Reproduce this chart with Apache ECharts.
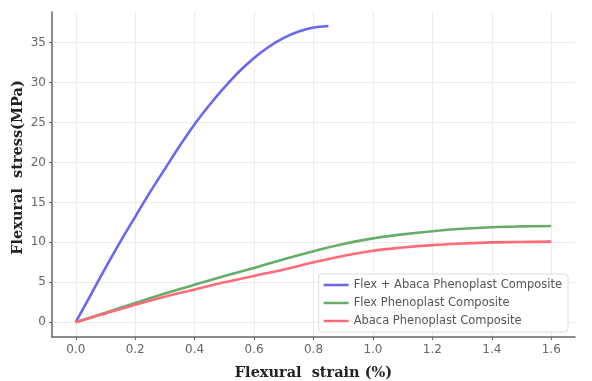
<!DOCTYPE html>
<html>
<head>
<meta charset="utf-8">
<script src="https://cdn.jsdelivr.net/npm/echarts@6/dist/echarts.min.js"></script>
<style>
  html, body { margin: 0; padding: 0; background: #fff; }
  #chart { width: 592px; height: 381px; }
</style>
</head>
<body>
<div id="chart"></div>
<script>
// strain (%) and stress (MPa)
const flaxAbacaStrain = [0, 0.05, 0.1, 0.15, 0.2, 0.25, 0.3, 0.35, 0.4, 0.45, 0.5, 0.55, 0.6, 0.65, 0.7, 0.75, 0.8, 0.85];
const flaxAbacaStress = [0, 3.4, 6.8, 10.1, 13.2, 16.3, 19.2, 22.1, 24.8, 27.2, 29.4, 31.4, 33.1, 34.5, 35.6, 36.4, 36.9, 37.1];

const strain = [0, 0.1, 0.2, 0.3, 0.4, 0.5, 0.6, 0.7, 0.8, 0.9, 1.0, 1.1, 1.2, 1.3, 1.4, 1.5, 1.6];
const flaxStress = [0, 1.2, 2.4, 3.6, 4.7, 5.8, 6.8, 7.9, 8.9, 9.8, 10.5, 11.0, 11.4, 11.7, 11.9, 12.0, 12.05];
const abacaStress = [0, 1.1, 2.2, 3.2, 4.1, 5.0, 5.8, 6.6, 7.5, 8.3, 8.95, 9.35, 9.65, 9.85, 10.0, 10.05, 10.1];

const seriesNames = ['Flex + Abaca Phenoplast Composite', 'Flex Phenoplast Composite', 'Abaca Phenoplast Composite'];
const xTicks = [0, 0.2, 0.4, 0.6, 0.8, 1.0, 1.2, 1.4, 1.6];
const yTicks = [0, 5, 10, 15, 20, 25, 30, 35];

const zip = (xs, ys) => xs.map((x, i) => [x, ys[i]]);

const chart = echarts.init(document.getElementById('chart'));

const lineSeries = (name, data, color) => ({
  name,
  type: 'line',
  data,
  smooth: 0.4,
  showSymbol: false,
  lineStyle: { color, width: 2.6 },
  itemStyle: { color },
});

chart.setOption({
  animation: false,
  grid: { left: 52, right: 17, top: 12, bottom: 44, outerBoundsMode: 'none' },
  xAxis: {
    type: 'value',
    min: -0.08,
    max: 1.68,
    name: 'Flexural  strain (%)',
    nameLocation: 'middle',
    nameGap: 29,
    nameTextStyle: { fontFamily: 'DejaVu Serif', fontWeight: 'bold', fontSize: 14.5, color: '#222' },
    axisLine: { onZero: false, lineStyle: { color: '#666', width: 1.5 } },
    axisTick: { show: true, length: 3, customValues: xTicks, lineStyle: { color: '#666' } },
    axisLabel: {
      customValues: xTicks,
      color: '#666',
      fontFamily: 'DejaVu Sans',
      fontSize: 12,
      margin: 7,
      formatter: (v) => v.toFixed(1),
    },
    splitLine: { show: true, lineStyle: { color: '#ebebeb', width: 1 } },
  },
  yAxis: {
    type: 'value',
    min: -1.85,
    max: 38.85,
    name: 'Flexural  stress(MPa)',
    nameLocation: 'middle',
    nameGap: 26,
    nameMoveOverlap: false,
    nameTextStyle: { fontFamily: 'DejaVu Serif', fontWeight: 'bold', fontSize: 14.5, color: '#222', padding: [0, 0, 0, 14] },
    axisLine: { show: true, onZero: false, lineStyle: { color: '#666', width: 1.5 } },
    axisTick: { show: true, length: 3, customValues: yTicks, lineStyle: { color: '#666' } },
    axisLabel: {
      customValues: yTicks,
      color: '#666',
      fontFamily: 'DejaVu Sans',
      fontSize: 12,
      margin: 6,
    },
    splitLine: { show: true, lineStyle: { color: '#ebebeb', width: 1 } },
  },
  legend: {
    orient: 'vertical',
    right: 24,
    bottom: 49,
    icon: 'rect',
    itemWidth: 25,
    itemHeight: 2.5,
    itemGap: 6,
    padding: [5, 6, 5, 5],
    backgroundColor: '#fff',
    borderColor: '#dcdcdc',
    borderWidth: 1,
    borderRadius: 3,
    textStyle: { fontFamily: 'DejaVu Sans', fontSize: 11.5, color: '#555' },
    data: seriesNames,
  },
  series: [
    lineSeries(seriesNames[0], zip(flaxAbacaStrain, flaxAbacaStress), '#6a66f2'),
    lineSeries(seriesNames[1], zip(strain, flaxStress), '#66ad6a'),
    lineSeries(seriesNames[2], zip(strain, abacaStress), '#ff6b78'),
  ],
});
</script>
</body>
</html>
